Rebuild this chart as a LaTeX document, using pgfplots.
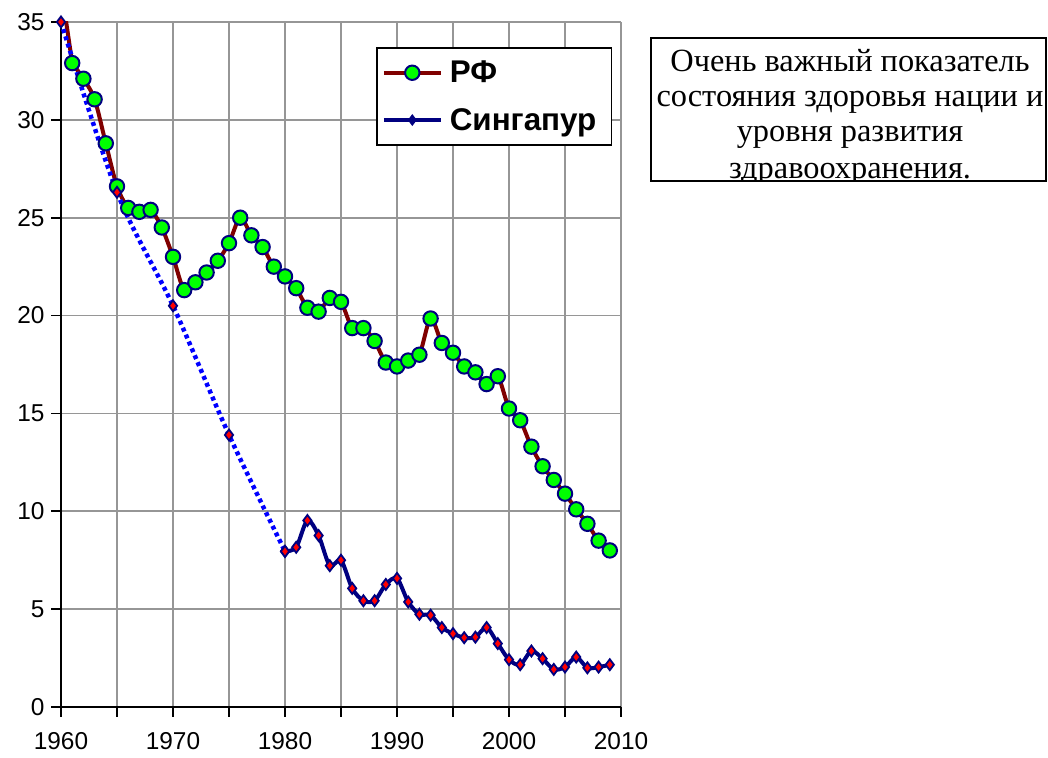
\documentclass[border=0pt]{standalone}
\usepackage{fontspec}
\setmainfont{Liberation Sans}
\newfontfamily\tnr{Liberation Serif}
\usepackage{pgfplots}
\pgfplotsset{compat=1.18}
\definecolor{rfline}{RGB}{128,0,0}
\definecolor{navyc}{RGB}{0,0,128}
\definecolor{gridc}{RGB}{150,150,150}
\definecolor{mgreen}{RGB}{0,255,0}
\definecolor{mred}{RGB}{255,0,0}
\definecolor{dotblue}{RGB}{0,0,255}

\pgfplotstableread{
year val
1960 36.8
1961 32.9
}\rfstart

\pgfplotstableread{
year val
1961 32.9
1962 32.1
1963 31.05
1964 28.8
1965 26.6
1966 25.5
1967 25.3
1968 25.4
1969 24.5
1970 23.0
1971 21.3
1972 21.7
1973 22.2
1974 22.8
1975 23.7
1976 25.0
1977 24.1
1978 23.5
1979 22.5
1980 22.0
1981 21.4
1982 20.4
1983 20.2
1984 20.9
1985 20.7
1986 19.36
1987 19.36
1988 18.7
1989 17.6
1990 17.4
1991 17.7
1992 18.0
1993 19.85
1994 18.6
1995 18.1
1996 17.4
1997 17.1
1998 16.5
1999 16.9
2000 15.25
2001 14.65
2002 13.3
2003 12.3
2004 11.6
2005 10.9
2006 10.1
2007 9.36
2008 8.5
2009 8.0
}\rf

\pgfplotstableread{
year val
1960 35.0
1965 26.3
1970 20.5
1975 13.9
1980 7.95
}\sgearly

\pgfplotstableread{
year val
1980 7.95
1981 8.16
1982 9.53
1983 8.76
1984 7.22
1985 7.5
1986 6.06
1987 5.43
1988 5.43
1989 6.26
1990 6.57
1991 5.37
1992 4.74
1993 4.69
1994 4.06
1995 3.75
1996 3.54
1997 3.57
1998 4.06
1999 3.24
2000 2.42
2001 2.16
2002 2.86
2003 2.47
2004 1.92
2005 2.04
2006 2.55
2007 2.0
2008 2.04
2009 2.16
}\sglate

\begin{document}
\begin{tikzpicture}[x=1bp,y=1bp]
\path[use as bounding box] (0,0) rectangle (1048,758);
\begin{axis}[
  at={(61bp,51bp)}, anchor=south west,
  scale only axis, width=560bp, height=685bp,
  xmin=1960, xmax=2010, ymin=0, ymax=35,
  xtick={1960,1965,...,2010},
  xticklabels={1960,,1970,,1980,,1990,,2000,,2010},
  ytick={0,5,...,35},
  grid=major,
  major grid style={draw=gridc, line width=1.6bp},
  axis x line*=bottom, axis y line*=left,
  x axis line style={-, line width=2bp, black},
  y axis line style={-, line width=2bp, black},
  tick align=outside,
  major tick length=10bp,
  tick style={black, line width=1.6bp},
  ticklabel style={font=\fontsize{24.5}{28}\selectfont},
  yticklabel style={xshift=-3bp},
  xticklabel style={yshift=-12bp},
  /pgf/number format/assume math mode=true,
  /pgf/number format/1000 sep={},
  legend cell align=left,
  legend style={at={(0.5625,0.963)}, anchor=north west, draw=black, line width=1.6bp,
    font=\bfseries\fontsize{31.5}{36}\selectfont, inner xsep=5bp, inner ysep=11bp, row sep=20bp,
    /tikz/every odd column/.append style={column sep=5bp}},
  legend image code/.code={\draw[mark repeat=2,mark phase=2,#1] plot coordinates {(0bp,0bp) (28.5bp,0bp) (57bp,0bp)};},
]
\addplot[rfline, line width=4bp, forget plot] table[x=year,y=val] {\rfstart};
\addplot[rfline, line width=4bp, smooth, mark=*,
  mark size=7.2bp, mark options={fill=mgreen, draw=navyc, line width=2bp}]
  table[x=year,y=val] {\rf};
\addlegendentry{РФ}
\addplot[dotblue, line width=4.5bp, smooth, dash pattern=on 4bp off 3.5bp, mark=diamond*,
  mark size=5.5bp, mark options={solid, fill=mred, draw=navyc, line width=1.8bp}, forget plot]
  table[x=year,y=val] {\sgearly};
\addplot[navyc, line width=4bp, smooth, mark=diamond*,
  mark size=5.5bp, mark options={solid, fill=mred, draw=navyc, line width=1.8bp},
  legend image post style={mark size=5bp, mark options={line width=1.2bp}}]
  table[x=year,y=val] {\sglate};
\addlegendentry{Сингапур\kern8bp\mbox{}}
\end{axis}
\begin{scope}
\clip (651,577) rectangle (1046,720);
\tikzset{tl/.style={anchor=base, font=\tnr\fontsize{32.5}{36}\selectfont, inner sep=0pt}}
\node[tl] at (850,758-71.7) {Очень важный показатель};
\node[tl] at (850,758-106.5) {состояния здоровья нации и};
\node[tl] at (850,758-141.5) {уровня развития};
\node[tl] at (850,758-178.5) {здравоохранения.};
\end{scope}
\draw[line width=1.6bp] (651,577) rectangle (1046,720);
\end{tikzpicture}
\end{document}
